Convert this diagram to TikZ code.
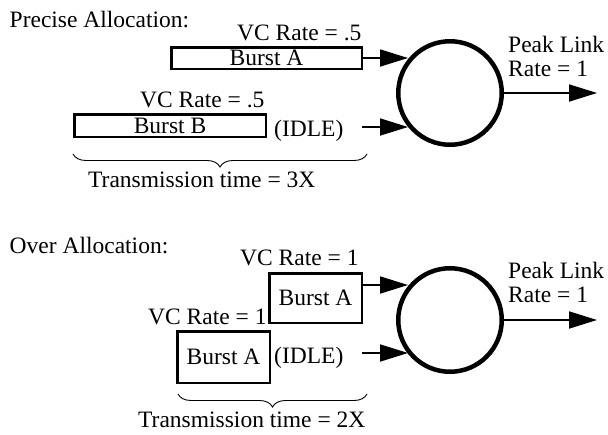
\documentclass[tikz,border=0pt]{standalone}
\usepackage{fontspec}
\setmainfont{Liberation Serif}
\usetikzlibrary{arrows.meta,decorations.pathreplacing}
\begin{document}
\begin{tikzpicture}[x=1pt,y=-1pt,
  every node/.style={font=\fontsize{23.5}{24}\selectfont},
  txt/.style={inner sep=0pt, anchor=base west},
  burst/.style={draw, line width=2.5pt, inner sep=0pt},
  hub/.style={circle, draw, line width=4.5pt, minimum size=103.5pt, inner sep=0pt},
  feed/.style={line width=1.8pt, -{Triangle[length=28pt,width=17pt]}},
  span/.style={decorate, decoration={brace, mirror, amplitude=13pt}, line width=0.9pt}]
\useasboundingbox (0,0) rectangle (608,434);

% ---------- Precise allocation ----------
\node[txt] (t1) at (9.5,27) {Precise Allocation:};
\node[txt] (r1) at (237,40) {VC Rate = .5};
\node[burst, minimum width=190.5pt, minimum height=21.5pt] (bA) at (266.5,58) {Burst A};
\node[txt] (r2) at (140,107) {VC Rate = .5};
\node[burst, minimum width=191.5pt, minimum height=22.5pt] (bB) at (170,125.5) {Burst B};
\node[txt] (idle1) at (274,136) {(IDLE)};
\node[hub] (hub1) at (450,93) {};
\node[txt] (p1) at (508,52) {Peak Link};
\node[txt] (p1b) at (508,76) {Rate = 1};
\coordinate (tA) at (408,58);
\coordinate (s1) at (362,127);
\coordinate (tI1) at (408,127);
\coordinate (o1) at (597,93);
\draw[feed] (bA.east) -- (tA);
\draw[feed] (s1) -- (tI1);
\draw[feed] (hub1.east) -- (o1);
\coordinate (b1l) at (73,154);
\coordinate (b1r) at (367,154);
\draw[span] (b1l) -- (b1r);
\node[txt] (tt1) at (88,187) {Transmission time = 3X};

% ---------- Over allocation ----------
\node[txt] (t2) at (9.5,253) {Over Allocation:};
\node[txt] (r3) at (240,265) {VC Rate = 1};
\node[burst, minimum width=92.5pt, minimum height=49.5pt] (bC) at (315.5,298) {Burst A};
\node[txt] (r4) at (148,324) {VC Rate = 1};
\node[burst, minimum width=92.5pt, minimum height=51.5pt] (bD) at (223.5,357) {Burst A};
\node[txt] (idle2) at (274,363) {(IDLE)};
\node[hub] (hub2) at (450,320) {};
\node[txt] (p2) at (508,278) {Peak Link};
\node[txt] (p2b) at (508,302) {Rate = 1};
\coordinate (s3) at (363,285);
\coordinate (tC) at (408,285);
\coordinate (s4) at (362,353);
\coordinate (tI2) at (408,353);
\coordinate (o2) at (597,320);
\draw[feed] (s3) -- (tC);
\draw[feed] (s4) -- (tI2);
\draw[feed] (hub2.east) -- (o2);
\coordinate (b2l) at (178,394);
\coordinate (b2r) at (367,394);
\draw[span] (b2l) -- (b2r);
\node[txt] (tt2) at (138,427) {Transmission time = 2X};
\end{tikzpicture}
\end{document}
